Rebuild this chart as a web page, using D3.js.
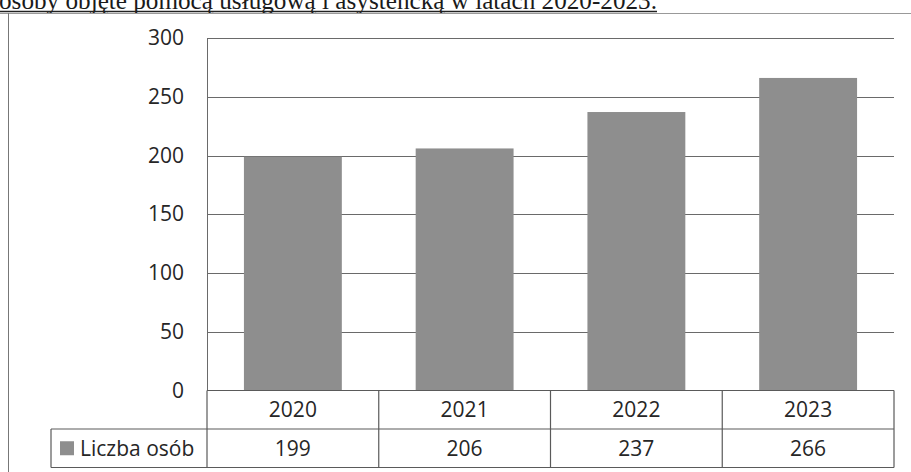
<!DOCTYPE html>
<html><head><meta charset="utf-8">
<script src="https://cdn.jsdelivr.net/npm/d3@7"></script>
<style>body{margin:0;background:#fff}svg{display:block}</style>
</head><body>
<svg id="c" width="911" height="472"></svg>
<script>
const titleText = "osoby objęte pomocą usługową i asystencką w latach 2020-2023.";
const seriesName = "Liczba osób";
const categories = ["2020", "2021", "2022", "2023"];
const values = [199, 206, 237, 266];
const yTicks = [0, 50, 100, 150, 200, 250, 300];

const svg = d3.select("#c");
const W = 911, H = 472;
const plotL = 207, plotR = 894, plotT = 38, plotB = 390.5;
const rowH = 38.5;

const x = d3.scaleBand().domain(categories).range([plotL, plotR]).padding(0);
const y = d3.scaleLinear().domain([0, 300]).range([plotB, plotT]);

const ink = "#262626", gridC = "#6a6a6a", barC = "#8e8e8e";
const font = "'Open Sans', sans-serif";

// title (clipped at top, as in the scanned page) and underline
const titleL = -1, titleR = 657;
svg.append("text").attr("x", titleL).attr("y", 8.5)
  .attr("font-family", "'Liberation Serif', serif").attr("font-size", 25)
  .attr("textLength", titleR - titleL).attr("lengthAdjust", "spacingAndGlyphs")
  .attr("fill", "#1a1a1a").text(titleText);
svg.append("line").attr("x1", 0).attr("x2", titleR).attr("y1", 11.5).attr("y2", 11.5)
  .attr("stroke", "#222").attr("stroke-width", 1.3);

// outer frame
svg.append("line").attr("x1", 0).attr("x2", W).attr("y1", 13.5).attr("y2", 13.5).attr("stroke", "#999").attr("stroke-width", 1);
svg.append("line").attr("x1", 8.5).attr("x2", 8.5).attr("y1", 13).attr("y2", H).attr("stroke", "#777").attr("stroke-width", 1);

// gridlines
svg.append("g").selectAll("line").data(yTicks.filter(d => d > 0)).join("line")
  .attr("x1", plotL).attr("x2", plotR)
  .attr("y1", d => Math.round(y(d)) + 0.5).attr("y2", d => Math.round(y(d)) + 0.5)
  .attr("stroke", gridC).attr("stroke-width", 1);

// y axis via d3
const yAxis = d3.axisLeft(y).tickValues(yTicks).tickSize(0).tickPadding(23);
const ga = svg.append("g").attr("transform", `translate(${plotL},0)`).call(yAxis);
ga.select(".domain").attr("stroke", gridC);
ga.selectAll("text").attr("font-family", font).attr("font-size", 21).attr("fill", ink);

// bars
const bw = x.bandwidth() * 0.57;
svg.append("g").selectAll("rect").data(values).join("rect")
  .attr("x", (d, i) => x(categories[i]) + (x.bandwidth() - bw) / 2)
  .attr("width", bw)
  .attr("y", d => y(d)).attr("height", d => y(0) - y(d))
  .attr("fill", barC);

// data table
const tT = plotB, tM = plotB + rowH, tB = plotB + 2 * rowH;
const legL = 51;
const tbl = svg.append("g").attr("stroke", "#5a5a5a").attr("stroke-width", 1.2).attr("fill", "none");
tbl.append("line").attr("x1", plotL).attr("x2", plotR).attr("y1", tT).attr("y2", tT);
tbl.append("line").attr("x1", legL).attr("x2", plotR).attr("y1", tM).attr("y2", tM);
tbl.append("line").attr("x1", legL).attr("x2", plotR).attr("y1", tB).attr("y2", tB);
tbl.append("line").attr("x1", legL).attr("x2", legL).attr("y1", tM).attr("y2", tB);
tbl.selectAll("line.v").data(categories.concat(["end"])).join("line").attr("class", "v")
  .attr("x1", d => d === "end" ? plotR : x(d)).attr("x2", d => d === "end" ? plotR : x(d))
  .attr("y1", tT).attr("y2", tB);

svg.append("g").selectAll("text").data(categories).join("text")
  .attr("x", d => x(d) + x.bandwidth() / 2).attr("y", (tT + tM) / 2 + 7.5)
  .attr("text-anchor", "middle").attr("font-family", font).attr("font-size", 21).attr("fill", ink)
  .text(d => d);
svg.append("g").selectAll("text").data(values).join("text")
  .attr("x", (d, i) => x(categories[i]) + x.bandwidth() / 2).attr("y", (tM + tB) / 2 + 7.5)
  .attr("text-anchor", "middle").attr("font-family", font).attr("font-size", 21).attr("fill", ink)
  .text(d => d);

// legend key in table
svg.append("rect").attr("x", 60).attr("y", (tM + tB) / 2 - 7).attr("width", 14).attr("height", 14).attr("fill", barC);
svg.append("text").attr("x", 80).attr("y", (tM + tB) / 2 + 7.5)
  .attr("font-family", font).attr("font-size", 21).attr("fill", ink).text(seriesName);
</script>
</body></html>
